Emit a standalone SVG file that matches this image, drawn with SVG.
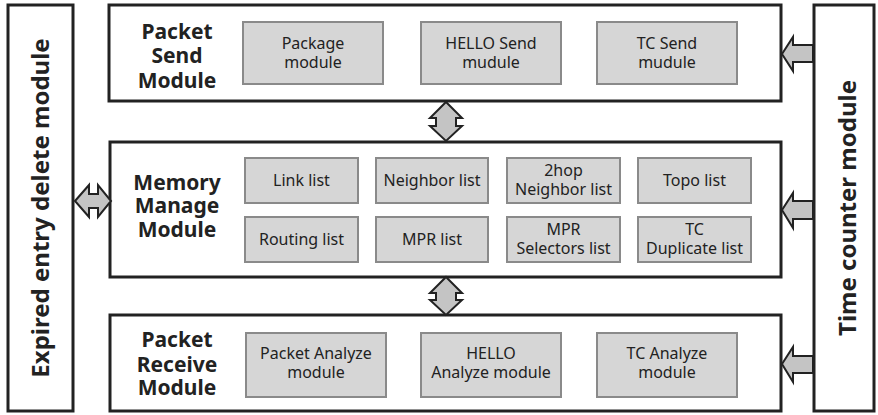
<svg xmlns="http://www.w3.org/2000/svg" width="878" height="415" viewBox="0 0 878 415">
  <style>
    .frame { fill: #ffffff; stroke: #222222; stroke-width: 3; }
    .sub { fill: #d6d6d6; stroke: #8a8a8a; stroke-width: 2; }
    .title { font-family: "Noto Sans", "Open Sans", sans-serif; font-weight: bold; font-size: 21px; fill: #222222; text-anchor: middle; }
    .side { font-family: "Noto Sans", "Open Sans", sans-serif; font-weight: bold; font-size: 24px; fill: #222222; text-anchor: middle; }
    .item { font-family: "Noto Sans", "Open Sans", sans-serif; font-size: 16px; fill: #222222; text-anchor: middle; }
    .arrow { fill: #c4c4c4; stroke: #222222; stroke-width: 2; stroke-linejoin: miter; }
  </style>

  <!-- Expired entry delete module (left column) -->
  <g id="expired-module">
    <rect class="frame" x="8" y="5" width="65" height="406"/>
    <text class="side" transform="translate(49 208) rotate(-90)">Expired entry delete module</text>
  </g>

  <!-- Time counter module (right column) -->
  <g id="time-counter-module">
    <rect class="frame" x="814" y="5" width="60" height="406"/>
    <text class="side" transform="translate(856 208) rotate(-90)">Time counter module</text>
  </g>

  <!-- Packet Send Module -->
  <g id="packet-send">
    <rect class="frame" x="109" y="5" width="672" height="96"/>
    <text class="title" x="177" y="39">Packet<tspan x="177" dy="24">Send</tspan><tspan x="177" dy="25">Module</tspan></text>
    <g id="package-module">
      <rect class="sub" x="243" y="22" width="140" height="62"/>
      <text class="item" x="313" y="49">Package<tspan x="313" dy="19">module</tspan></text>
    </g>
    <g id="hello-send">
      <rect class="sub" x="421" y="22" width="140" height="62"/>
      <text class="item" x="491" y="49">HELLO Send<tspan x="491" dy="19">mudule</tspan></text>
    </g>
    <g id="tc-send">
      <rect class="sub" x="597" y="22" width="140" height="62"/>
      <text class="item" x="667" y="49">TC Send<tspan x="667" dy="19">mudule</tspan></text>
    </g>
  </g>

  <!-- Memory Manage Module -->
  <g id="memory-manage">
    <rect class="frame" x="110" y="142" width="671" height="135"/>
    <text class="title" x="177" y="190">Memory<tspan x="177" dy="23">Manage</tspan><tspan x="177" dy="24">Module</tspan></text>
    <g id="link-list">
      <rect class="sub" x="245" y="158" width="113" height="45"/>
      <text class="item" x="301.5" y="186">Link list</text>
    </g>
    <g id="neighbor-list">
      <rect class="sub" x="376" y="158" width="112" height="45"/>
      <text class="item" x="432" y="186">Neighbor list</text>
    </g>
    <g id="twohop-list">
      <rect class="sub" x="507" y="158" width="113" height="45"/>
      <text class="item" x="563.5" y="176">2hop<tspan x="563.5" dy="19">Neighbor list</tspan></text>
    </g>
    <g id="topo-list">
      <rect class="sub" x="638" y="158" width="113" height="45"/>
      <text class="item" x="694.5" y="186">Topo list</text>
    </g>
    <g id="routing-list">
      <rect class="sub" x="245" y="217" width="113" height="45"/>
      <text class="item" x="301.5" y="245">Routing list</text>
    </g>
    <g id="mpr-list">
      <rect class="sub" x="376" y="217" width="112" height="45"/>
      <text class="item" x="432" y="245">MPR list</text>
    </g>
    <g id="mpr-selectors-list">
      <rect class="sub" x="507" y="217" width="113" height="45"/>
      <text class="item" x="563.5" y="235">MPR<tspan x="563.5" dy="19">Selectors list</tspan></text>
    </g>
    <g id="tc-duplicate-list">
      <rect class="sub" x="638" y="217" width="113" height="45"/>
      <text class="item" x="694.5" y="235">TC<tspan x="694.5" dy="19">Duplicate list</tspan></text>
    </g>
  </g>

  <!-- Packet Receive Module -->
  <g id="packet-receive">
    <rect class="frame" x="110" y="315" width="671" height="96"/>
    <text class="title" x="177" y="347">Packet<tspan x="177" dy="25">Receive</tspan><tspan x="177" dy="23">Module</tspan></text>
    <g id="packet-analyze">
      <rect class="sub" x="246" y="333" width="140" height="64"/>
      <text class="item" x="316" y="359">Packet Analyze<tspan x="316" dy="19">module</tspan></text>
    </g>
    <g id="hello-analyze">
      <rect class="sub" x="421" y="333" width="140" height="64"/>
      <text class="item" x="491" y="359">HELLO<tspan x="491" dy="19">Analyze module</tspan></text>
    </g>
    <g id="tc-analyze">
      <rect class="sub" x="597" y="333" width="140" height="64"/>
      <text class="item" x="667" y="359">TC Analyze<tspan x="667" dy="19">module</tspan></text>
    </g>
  </g>

  <!-- Connectors: block arrows between modules -->
  <g id="connectors">
    <!-- send <-> memory -->
    <polygon class="arrow" points="446,102 462,118 456,118 456,126 462,126 446,141 430,126 436,126 436,118 430,118"/>
    <!-- memory <-> receive -->
    <polygon class="arrow" points="446,277 462,293 456,293 456,300 462,300 446,315 430,300 436,300 436,293 430,293"/>
    <!-- expired <-> memory -->
    <polygon class="arrow" points="75,201 89,185 89,194 98,194 98,185 111,201 98,217 98,208 89,208 89,217"/>
    <!-- time counter -> modules -->
    <polygon class="arrow" points="782,54 793,37 793,45 813,45 813,62 793,62 793,71"/>
    <polygon class="arrow" points="782,210 793,193 793,201 813,201 813,219 793,219 793,228"/>
    <polygon class="arrow" points="782,364 793,347 793,356 813,356 813,373 793,373 793,382"/>
  </g>
</svg>
